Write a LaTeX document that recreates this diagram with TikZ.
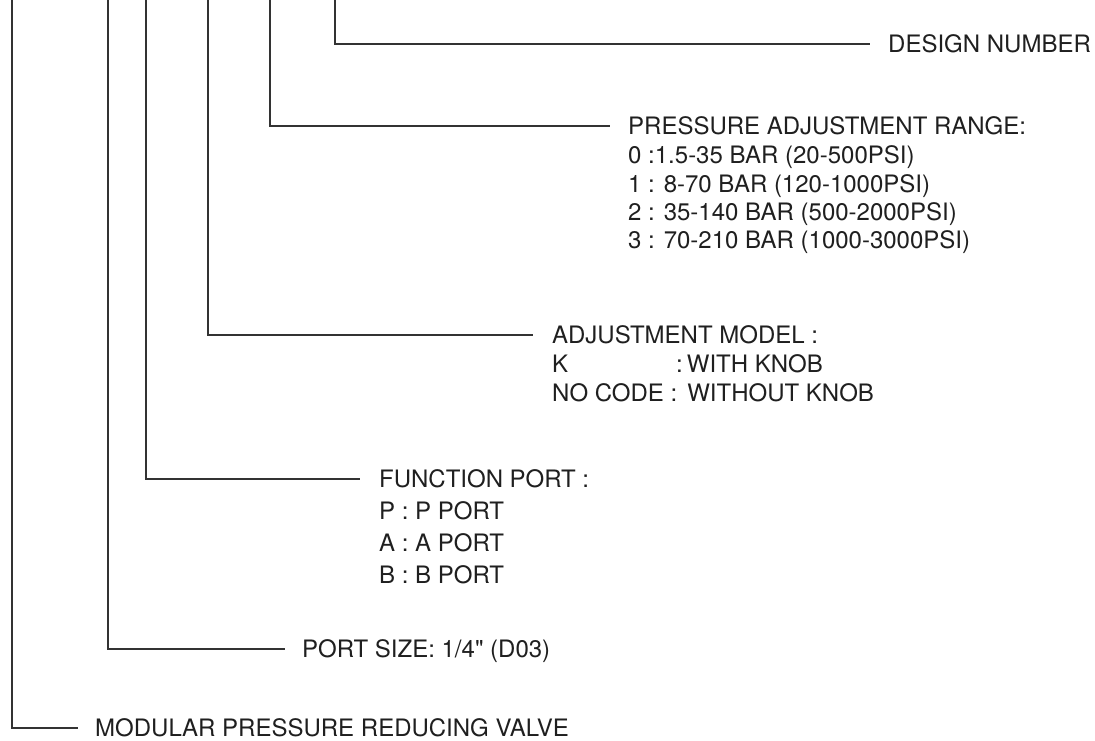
\documentclass[tikz,border=0pt]{standalone}
\usepackage{fontspec}
\setmainfont{TeX Gyre Heros}[Ligatures=TeXOff]
\begin{document}
\begin{tikzpicture}[x=1pt,y=-1pt,
  lbl/.style={anchor=west,inner sep=0pt,text height=17pt,text depth=0pt,
    font=\fontsize{24}{28}\selectfont,text=black!88},
  lead/.style={draw=black!80,line width=1.3pt}]
\useasboundingbox (0,0) rectangle (1095,740);
% top ends of the leaders
\coordinate (t1) at (12,0);
\coordinate (t2) at (108,0);
\coordinate (t3) at (146,0);
\coordinate (t4) at (208,0);
\coordinate (t5) at (270,0);
\coordinate (t6) at (335,0);
% design number
\node[lbl] (dn) at (888,44) {DESIGN NUMBER};
% pressure range
\node[lbl] (pr0) at (628,126) {PRESSURE ADJUSTMENT RANGE:};
\node[lbl] (pr1) at (628,155) {0 :1.5-35 BAR (20-500PSI)};
\node[lbl] (pr2) at (628,184) {1 : 8-70 BAR (120-1000PSI)};
\node[lbl] (pr3) at (628,212) {2 : 35-140 BAR (500-2000PSI)};
\node[lbl] (pr4) at (628,240) {3 : 70-210 BAR (1000-3000PSI)};
% adjustment model
\node[lbl] (am0) at (552,335) {ADJUSTMENT MODEL :};
\node[lbl] (am1) at (552,364) {\makebox[124pt][l]{K}:\hspace{4pt}WITH KNOB};
\node[lbl] (am2) at (552,393) {NO CODE :\hspace{10pt}WITHOUT KNOB};
% function port
\node[lbl] (fp0) at (379,479) {FUNCTION PORT :};
\node[lbl] (fp1) at (379,511) {P : P PORT};
\node[lbl] (fp2) at (379,543) {A : A PORT};
\node[lbl] (fp3) at (379,575) {B : B PORT};
% port size
\node[lbl] (ps) at (302,649) {PORT SIZE: 1/4" (D03)};
% modular
\node[lbl] (mv) at (95,728) {MODULAR PRESSURE REDUCING VALVE};
% leaders
\draw[lead] (t6) |- ([xshift=-18pt]dn.west);
\draw[lead] (t5) |- ([xshift=-18pt]pr0.west);
\draw[lead] (t4) |- ([xshift=-19pt]am0.west);
\draw[lead] (t3) |- ([xshift=-19pt]fp0.west);
\draw[lead] (t2) |- ([xshift=-17pt]ps.west);
\draw[lead] (t1) |- ([xshift=-17pt]mv.west);
\end{tikzpicture}
\end{document}
